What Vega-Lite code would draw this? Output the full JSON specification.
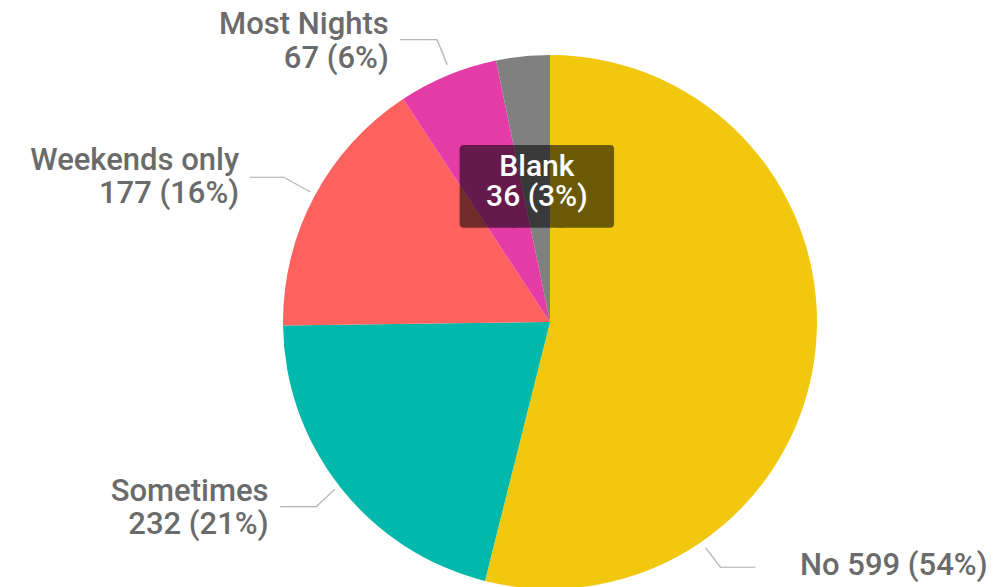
{
  "$schema": "https://vega.github.io/schema/vega-lite/v6.json",
  "width": 914,
  "height": 530,
  "autosize": "none",
  "padding": {"left": 93, "top": 57, "right": 0, "bottom": 0},
  "background": "white",
  "config": {"view": {"stroke": null}},
  "data": {
    "values": [
      {"cat": "No", "value": 599, "ord": 1, "lbl": "No 599 (54%)"},
      {"cat": "Sometimes", "value": 232, "ord": 2, "lbl": ["Sometimes", "232 (21%)"]},
      {"cat": "Weekends only", "value": 177, "ord": 3, "lbl": ["Weekends only", "177 (16%)"]},
      {"cat": "Most Nights", "value": 67, "ord": 4, "lbl": ["Most Nights", "67 (6%)"]},
      {"cat": "Blank", "value": 36, "ord": 5, "lbl": ["Blank", "36 (3%)"]}
    ]
  },
  "encoding": {
    "theta": {"field": "value", "type": "quantitative", "stack": true},
    "order": {"field": "ord", "type": "quantitative", "sort": "ascending"}
  },
  "layer": [
    {
      "mark": {"type": "arc", "outerRadius": 267},
      "encoding": {
        "color": {
          "field": "cat", "type": "nominal", "legend": null,
          "scale": {
            "domain": ["No", "Sometimes", "Weekends only", "Most Nights", "Blank"],
            "range": ["#F2C80F", "#01B8AA", "#FD625E", "#E43BA7", "#808080"]
          }
        }
      }
    },
    {
      "mark": {"type": "text", "radius": 0, "font": "DejaVu Sans Mono", "fontSize": 13.8, "color": "#b4b4b4", "align": "center", "baseline": "middle", "angle": 53, "dx": 286.3, "dy": 12.2},
      "encoding": {"text": {"condition": {"test": "datum.cat === 'No'", "value": "───"}, "value": ""}}
    },
    {
      "mark": {"type": "text", "radius": 0, "font": "DejaVu Sans Mono", "fontSize": 14.5, "color": "#b4b4b4", "align": "center", "baseline": "middle", "dx": 187.5, "dy": 246},
      "encoding": {"text": {"condition": {"test": "datum.cat === 'No'", "value": "────"}, "value": ""}}
    },
    {
      "mark": {"type": "text", "radius": 0, "font": "DejaVu Sans Mono", "fontSize": 13.8, "color": "#b4b4b4", "align": "center", "baseline": "middle", "angle": -43, "dx": -284.2, "dy": -23.7},
      "encoding": {"text": {"condition": {"test": "datum.cat === 'Sometimes'", "value": "───"}, "value": ""}}
    },
    {
      "mark": {"type": "text", "radius": 0, "font": "DejaVu Sans Mono", "fontSize": 15.4, "color": "#b4b4b4", "align": "center", "baseline": "middle", "dx": -251.5, "dy": 185},
      "encoding": {"text": {"condition": {"test": "datum.cat === 'Sometimes'", "value": "────"}, "value": ""}}
    },
    {
      "mark": {"type": "text", "radius": 0, "font": "DejaVu Sans Mono", "fontSize": 12, "color": "#b4b4b4", "align": "center", "baseline": "middle", "angle": 29, "dx": -287.2, "dy": 2.6},
      "encoding": {"text": {"condition": {"test": "datum.cat === 'Weekends only'", "value": "────"}, "value": ""}}
    },
    {
      "mark": {"type": "text", "radius": 0, "font": "DejaVu Sans Mono", "fontSize": 14.5, "color": "#b4b4b4", "align": "center", "baseline": "middle", "dx": -282.5, "dy": -144},
      "encoding": {"text": {"condition": {"test": "datum.cat === 'Weekends only'", "value": "────"}, "value": ""}}
    },
    {
      "mark": {"type": "text", "radius": 0, "font": "DejaVu Sans Mono", "fontSize": 15, "color": "#b4b4b4", "align": "center", "baseline": "middle", "angle": 68, "dx": -290.4, "dy": -0.9},
      "encoding": {"text": {"condition": {"test": "datum.cat === 'Most Nights'", "value": "───"}, "value": ""}}
    },
    {
      "mark": {"type": "text", "radius": 0, "font": "DejaVu Sans Mono", "fontSize": 15.4, "color": "#b4b4b4", "align": "center", "baseline": "middle", "dx": -131.5, "dy": -282},
      "encoding": {"text": {"condition": {"test": "datum.cat === 'Most Nights'", "value": "────"}, "value": ""}}
    },
    {
      "mark": {"type": "text", "radius": 267, "font": "Roboto", "fontSize": 31, "fontWeight": 500, "color": "#6b6b6b", "align": "left", "baseline": "middle", "dx": -15, "dy": 211},
      "encoding": {"text": {"condition": {"test": "datum.cat === 'No'", "field": "lbl"}, "value": ""}}
    },
    {
      "mark": {"type": "text", "radius": 267, "font": "Roboto", "fontSize": 31, "fontWeight": 500, "lineHeight": 33, "color": "#6b6b6b", "align": "right", "baseline": "middle", "dx": -72, "dy": 4},
      "encoding": {"text": {"condition": {"test": "datum.cat === 'Sometimes'", "field": "lbl"}, "value": ""}}
    },
    {
      "mark": {"type": "text", "radius": 267, "font": "Roboto", "fontSize": 31, "fontWeight": 500, "lineHeight": 33, "color": "#6b6b6b", "align": "right", "baseline": "middle", "dx": -75, "dy": -36},
      "encoding": {"text": {"condition": {"test": "datum.cat === 'Weekends only'", "field": "lbl"}, "value": ""}}
    },
    {
      "mark": {"type": "text", "radius": 267, "font": "Roboto", "fontSize": 31, "fontWeight": 500, "lineHeight": 34, "color": "#6b6b6b", "align": "right", "baseline": "middle", "dx": -59, "dy": -50},
      "encoding": {"text": {"condition": {"test": "datum.cat === 'Most Nights'", "field": "lbl"}, "value": ""}}
    },
    {
      "mark": {"type": "text", "radius": 267, "font": "DejaVu Sans", "fontSize": 63, "color": "black", "stroke": "black", "strokeWidth": 8, "strokeJoin": "round", "opacity": 0.55, "align": "center", "baseline": "middle", "dx": 14, "dy": 133},
      "encoding": {"text": {"condition": {"test": "datum.cat === 'Blank'", "value": "███"}, "value": ""}}
    },
    {
      "mark": {"type": "text", "radius": 267, "font": "Roboto", "fontSize": 30, "fontWeight": 500, "lineHeight": 30, "color": "white", "align": "center", "baseline": "middle", "dx": 14, "dy": 111},
      "encoding": {"text": {"condition": {"test": "datum.cat === 'Blank'", "field": "lbl"}, "value": ""}}
    }
  ]
}
